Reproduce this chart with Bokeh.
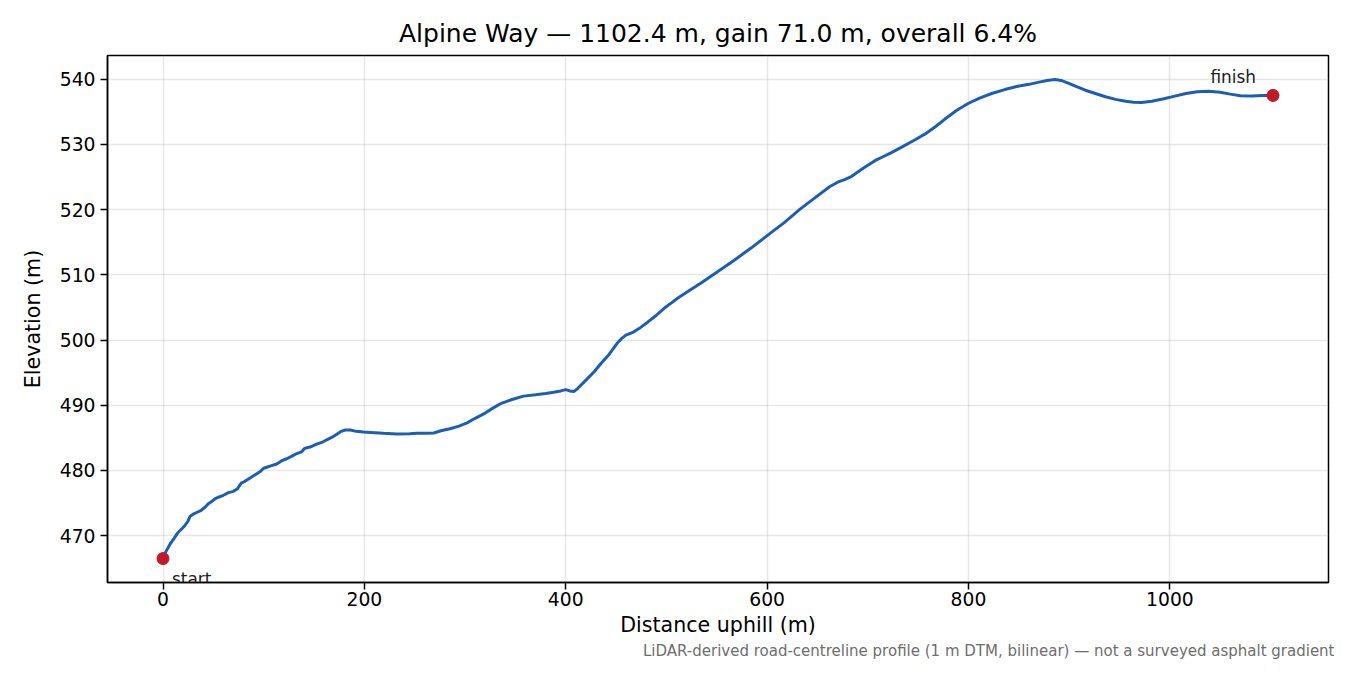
from bokeh.plotting import figure
from bokeh.models import Range1d, FixedTicker, Label, Title
from bokeh.embed import file_html
from bokeh.resources import INLINE

# distance along the road (m) and elevation (m)
dist = [0, 3, 7, 11, 15, 19, 22, 25, 27, 30,
        34, 38, 42, 45, 48, 52, 55, 60, 65, 70,
        74, 76, 78, 81, 86, 92, 97, 100, 103, 107,
        113, 118, 123, 128, 133, 138, 140, 143, 146, 152,
        159, 164, 168, 173, 177, 181, 186, 192, 199, 210,
        219, 232, 245, 252, 262, 269, 272, 276, 285, 294,
        302, 310, 320, 328, 336, 345, 358, 370, 380, 388,
        395, 400, 404, 408, 412, 421, 428, 435, 443, 451,
        456, 460, 464, 468, 474, 481, 490, 498, 505, 511,
        522, 534, 550, 567, 584, 600, 617, 633, 650, 662,
        670, 677, 684, 695, 707, 715, 723, 735, 747, 757,
        767, 776, 788, 800, 811, 823, 836, 849, 860, 869,
        878, 886, 892, 899, 908, 916, 926, 936, 946, 956,
        964, 972, 982, 994, 1005, 1016, 1027, 1038, 1050, 1060,
        1070, 1082, 1092, 1102.4]
elev = [466.5, 467.6, 468.7, 469.6, 470.5, 471.1, 471.6, 472.3, 473.0, 473.3,
        473.6, 473.9, 474.4, 474.9, 475.2, 475.7, 475.9, 476.2, 476.6, 476.8,
        477.2, 477.7, 478.1, 478.3, 478.8, 479.4, 479.9, 480.35, 480.5, 480.7,
        481.0, 481.5, 481.8, 482.2, 482.6, 482.9, 483.3, 483.5, 483.6, 484.0,
        484.4, 484.8, 485.1, 485.6, 486.0, 486.2, 486.2, 486.0, 485.9, 485.8,
        485.7, 485.6, 485.65, 485.7, 485.7, 485.75, 485.9, 486.1, 486.4, 486.8,
        487.3, 488.0, 488.8, 489.6, 490.3, 490.8, 491.4, 491.6, 491.8, 492.0,
        492.2, 492.4, 492.2, 492.1, 492.6, 494.0, 495.1, 496.4, 497.8, 499.5,
        500.3, 500.8, 501.0, 501.3, 501.9, 502.7, 503.8, 504.9, 505.7, 506.4,
        507.5, 508.7, 510.4, 512.2, 514.1, 516.0, 518.0, 520.1, 522.1, 523.5,
        524.2, 524.6, 525.1, 526.3, 527.5, 528.1, 528.7, 529.7, 530.7, 531.6,
        532.7, 533.8, 535.2, 536.3, 537.1, 537.8, 538.4, 538.9, 539.2, 539.5,
        539.8, 539.95, 539.8, 539.4, 538.8, 538.3, 537.8, 537.3, 536.9, 536.6,
        536.45, 536.4, 536.6, 537.0, 537.4, 537.8, 538.05, 538.15, 538.0, 537.7,
        537.45, 537.4, 537.5, 537.5]

x_ticks = [0, 200, 400, 600, 800, 1000]
y_ticks = [470, 480, 490, 500, 510, 520, 530, 540]

name = "Alpine Way"
length = dist[-1]
gain = elev[-1] - elev[0]
title = f"{name} \u2014 {length:.1f} m, gain {gain:.1f} m, overall {100 * gain / length:.1f}%"
note = ("LiDAR-derived road-centreline profile (1 m DTM, bilinear) "
        "\u2014 not a surveyed asphalt gradient")

FONT = "DejaVu Sans"
LINE = "#1c5eb4"
RED = "#c0192b"

xspan = max(dist) - min(dist)
yspan = max(elev) - min(elev)
xr = Range1d(min(dist) - 0.05 * xspan, max(dist) + 0.05 * xspan)
yr = Range1d(min(elev) - 0.05 * yspan, max(elev) + 0.05 * yspan)

p = figure(width=1334, height=659, output_backend="svg", toolbar_location=None,
           x_range=xr, y_range=yr,
           x_axis_label="Distance uphill (m)", y_axis_label="Elevation (m)",
           min_border_left=107, min_border_right=6, min_border_top=55, min_border_bottom=0)

p.title.text = title
p.title.align = "center"
p.title.text_font = FONT
p.title.text_font_size = "25px"
p.title.text_font_style = "normal"
p.title.text_color = "black"
p.title.standoff = 15

p.line(dist, elev, line_color=LINE, line_width=3)
p.scatter([dist[0], dist[-1]], [elev[0], elev[-1]], size=12, color=RED)

p.add_layout(Label(x=dist[0], y=elev[0], text="start", x_offset=9, y_offset=-20,
                   text_font=FONT, text_font_size="16.9px", text_color="#222222",
                   text_align="left", text_baseline="alphabetic"))
p.add_layout(Label(x=dist[-1], y=elev[-1], text="finish", x_offset=-17, y_offset=18,
                   text_font=FONT, text_font_size="16.9px", text_color="#222222",
                   text_align="right", text_baseline="alphabetic"))

# footnote sits under the axis label, right-aligned, a little past the frame edge
p.add_layout(Title(text=note, align="right", text_font=FONT, text_font_size="15px",
                   text_font_style="normal", text_color="#6e6e6e", standoff=0,
                   offset=-6), "below")

p.xaxis.ticker = FixedTicker(ticks=x_ticks)
p.yaxis.ticker = FixedTicker(ticks=y_ticks)
for ax in (p.xaxis, p.yaxis):
    ax.axis_line_color = "black"
    ax.axis_line_width = 1.5
    ax.major_tick_line_width = 1.5
    ax.major_tick_in = 0
    ax.major_tick_out = 7
    ax.minor_tick_line_color = None
    ax.major_label_text_font = FONT
    ax.major_label_text_font_size = "18.75px"
    ax.major_label_text_color = "black"
    ax.axis_label_text_font = FONT
    ax.axis_label_text_font_size = "20.6px"
    ax.axis_label_text_font_style = "normal"
    ax.axis_label_text_color = "black"
p.xaxis.major_label_standoff = 2
p.xaxis.axis_label_standoff = 4
p.yaxis.major_label_standoff = 5
p.yaxis.axis_label_standoff = 12

p.outline_line_color = "black"
p.outline_line_width = 1.5
p.grid.grid_line_color = "#b0b0b0"
p.grid.grid_line_alpha = 0.3
p.grid.grid_line_width = 1.5
p.xgrid.ticker = FixedTicker(ticks=x_ticks)
p.ygrid.ticker = FixedTicker(ticks=y_ticks)

open("out.html", "w").write(file_html(p, INLINE))
